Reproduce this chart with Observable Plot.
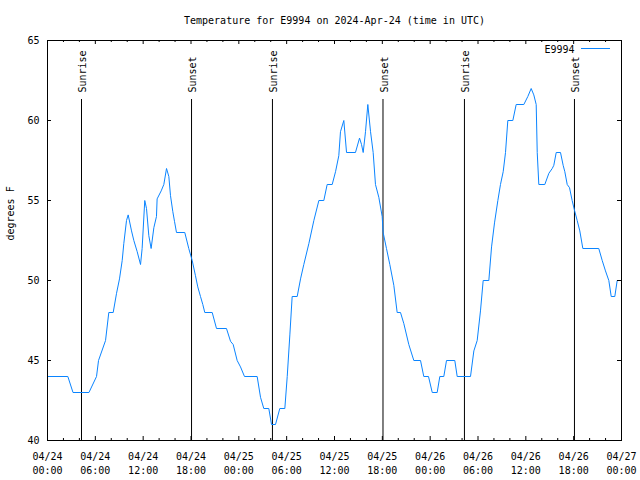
<!DOCTYPE html>
<html>
<head>
<meta charset="utf-8">
<script src="https://cdn.jsdelivr.net/npm/d3@7"></script>
<script src="https://cdn.jsdelivr.net/npm/@observablehq/plot@0.6"></script>
<style>
  html, body { margin: 0; padding: 0; background: white; }
</style>
</head>
<body>
<div id="chart"></div>
<script>
// ---- data (hours after 2024-04-24 00:00 UTC, temperature in °F) ----
const hours = [
  0, 2.55, 3.2, 5.2, 6.15, 6.4, 7.28, 7.69, 8.24, 8.66, 9.03, 9.37, 9.57, 9.91, 10.12,
  10.54, 10.83, 11.25, 11.67, 11.87, 12.2, 12.42, 12.71, 13.0, 13.34, 13.67, 13.75, 14.26,
  14.59, 14.93, 15.22, 15.43, 15.72, 15.93, 16.18, 17.22, 17.72, 18.15, 18.56, 18.85, 19.19,
  19.48, 19.73, 20.66, 21.2, 22.45, 22.96, 23.29, 23.79, 24.21, 24.71, 26.3, 26.72, 27.13,
  27.76, 28.1, 28.6, 29.14, 29.77, 30.07, 30.4, 30.69, 31.32, 31.74, 32.15, 32.78, 33.41,
  34.04, 34.66, 35.08, 35.71, 36.13, 36.54, 36.75, 37.17, 37.51, 38.63, 39.14, 39.39, 39.6,
  39.89, 40.18, 40.52, 40.85, 41.14, 41.56, 41.98, 42.1, 42.52, 42.94, 43.44, 43.86, 44.28,
  44.7, 45.32, 45.95, 46.79, 47.2, 47.79, 48.26, 48.88, 49.21, 49.71, 50.05, 51.09, 51.39,
  53.06, 53.48, 53.9, 54.31, 54.65, 55.36, 55.7, 56.07, 56.49, 56.82, 57.16, 57.45, 57.74,
  58.37, 58.79, 59.75, 60.25, 60.67, 61.0, 61.3, 61.43, 61.63, 62.38, 62.89, 63.31, 63.51,
  63.81, 64.35, 64.68, 64.89, 65.19, 65.48, 65.81, 66.1, 66.44, 66.77, 67.15, 69.15, 69.58,
  69.99, 70.41, 70.71, 71.16, 71.46, 72
];
const temps = [
  44, 44, 43, 43, 44, 45, 46.25, 48, 48, 49.2, 50.1, 51.25, 52.3, 53.75, 54.1,
  53.1, 52.5, 51.8, 51, 52, 55, 54.5, 52.8, 52, 53.3, 54, 55.1, 55.6,
  56, 57, 56.5, 55.3, 54.3, 53.7, 53, 53, 52, 51.25, 50.3, 49.6, 49,
  48.5, 48, 48, 47, 47, 46.2, 46, 45, 44.6, 44, 44, 42.7, 42,
  42, 41, 41, 42, 42, 44, 46.6, 49, 49, 50.1, 51, 52.3, 53.75,
  55, 55, 56, 56, 56.8, 57.8, 59.3, 60, 58, 58, 58.9, 58.5, 58,
  59.3, 61, 59.3, 58, 56, 55.2, 54, 53, 52, 51, 49.7, 48, 48,
  47.3, 46, 45, 45, 44, 44, 43, 43, 44, 44, 45, 45, 44,
  44, 45.6, 46.25, 48.1, 50, 50, 52.1, 53.6, 55, 56, 56.8, 58, 60,
  60, 61, 61, 61.5, 62, 61.6, 61, 58, 56, 56, 56.7, 57, 57.2,
  58, 58, 57.2, 56.8, 56, 55.8, 55, 54.4, 53.75, 53.1, 52, 52, 51.25,
  50.6, 50, 49, 49, 50, 50
];

const sunLabels = ["Sunrise", "Sunset", "Sunrise", "Sunset", "Sunrise", "Sunset"];
const sunTimes = [
  "2024-04-24T04:16Z", "2024-04-24T18:04Z",
  "2024-04-25T04:13Z", "2024-04-25T18:05Z",
  "2024-04-26T04:18Z", "2024-04-26T18:06Z"
];

const xTickTimes = [
  "2024-04-24T00:00Z", "2024-04-24T06:00Z", "2024-04-24T12:00Z", "2024-04-24T18:00Z",
  "2024-04-25T00:00Z", "2024-04-25T06:00Z", "2024-04-25T12:00Z", "2024-04-25T18:00Z",
  "2024-04-26T00:00Z", "2024-04-26T06:00Z", "2024-04-26T12:00Z", "2024-04-26T18:00Z",
  "2024-04-27T00:00Z"
];
const xTickLabels = [
  "04/24\n00:00", "04/24\n06:00", "04/24\n12:00", "04/24\n18:00",
  "04/25\n00:00", "04/25\n06:00", "04/25\n12:00", "04/25\n18:00",
  "04/26\n00:00", "04/26\n06:00", "04/26\n12:00", "04/26\n18:00",
  "04/27\n00:00"
];
const yTicks = [40, 45, 50, 55, 60, 65];

const titleText = "Temperature for E9994 on 2024-Apr-24 (time in UTC)";
const yLabel = "degrees F";
const seriesName = "E9994";

// ---- build ----
const start = new Date("2024-04-24T00:00Z");
const end = new Date("2024-04-27T00:00Z");
const H = 3600e3;
const data = hours.map((h, i) => ({t: new Date(+start + h * H), v: temps[i]}));
const sun = sunTimes.map((s, i) => ({t: new Date(s), label: sunLabels[i]}));
const majorX = xTickTimes.map(s => new Date(s));
const labelByTime = new Map(majorX.map((d, i) => [+d, xTickLabels[i]]));
const minorX = d3.utcHour.every(2).range(start, end).filter(d => d.getUTCHours() % 6 !== 0);
const innerY = yTicks.filter(v => v !== 40 && v !== 65);
const lineColor = "#0a84ff";
const font = "'DejaVu Sans Mono', monospace";

const chart = Plot.plot({
  width: 640,
  height: 480,
  marginLeft: 47,
  marginRight: 19,
  marginTop: 40,
  marginBottom: 40,
  style: {fontFamily: font, fontSize: "10px", background: "white", color: "black"},
  x: {type: "utc", domain: [start, end]},
  y: {domain: [40, 65]},
  marks: [
    // sunrise / sunset markers
    Plot.ruleX(sun, {x: "t", insetTop: 59, stroke: "black", strokeWidth: 1}),
    Plot.text(sun, {x: "t", text: "label", frameAnchor: "top", dy: 52, dx: 1.5, rotate: -90,
      textAnchor: "start", lineAnchor: "middle", fill: "black", fontSize: 10}),
    // data
    Plot.line(data, {x: "t", y: "v", stroke: lineColor, strokeWidth: 1}),
    // inward ticks
    Plot.ruleX(majorX, {y1: 40, y2: 40.25, stroke: "black"}),
    Plot.ruleX(majorX, {y1: 64.75, y2: 65, stroke: "black"}),
    Plot.ruleX(minorX, {y1: 40, y2: 40.125, stroke: "black"}),
    Plot.ruleX(minorX, {y1: 64875e-3, y2: 65, stroke: "black"}),
    Plot.ruleY(innerY, {x1: start, x2: new Date(+start + 0.5 * H), stroke: "black"}),
    Plot.ruleY(innerY, {x1: new Date(+end - 0.5 * H), x2: end, stroke: "black"}),
    Plot.frame({stroke: "black"}),
    // axes labels
    Plot.axisX({ticks: majorX, tickSize: 0, tickPadding: 9, lineHeight: 1.45,
      tickFormat: d => labelByTime.get(+d), label: null, fill: "black"}),
    Plot.axisY({ticks: yTicks, tickSize: 0, tickPadding: 8, label: null, fill: "black"}),
    // y label
    Plot.text([yLabel], {frameAnchor: "left", dx: -37, rotate: -90, text: d => d, fill: "black"}),
    // title
    Plot.text([titleText], {frameAnchor: "top", dy: -24, text: d => d, fill: "black"}),
    // legend text
    Plot.text([seriesName], {frameAnchor: "top-right", dx: -47, dy: 5, textAnchor: "end",
      text: d => d, fill: "black"})
  ]
});

// legend sample line
d3.select(chart).append("line")
  .attr("x1", 581).attr("x2", 610)
  .attr("y1", 48.5).attr("y2", 48.5)
  .attr("stroke", lineColor).attr("stroke-width", 1);

document.getElementById("chart").appendChild(chart);
</script>
</body>
</html>
